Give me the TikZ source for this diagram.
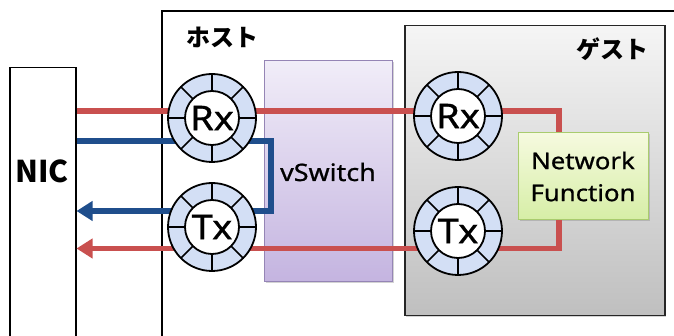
\documentclass[tikz,border=0pt]{standalone}
\usepackage{fontspec}
\setmainfont{Noto Sans CJK JP}
\newfontfamily\latinfont{Noto Sans}[FakeStretch=1.12,FakeBold=0.8]
\usetikzlibrary{arrows.meta,shadows,calc}
\definecolor{lred}{HTML}{C9504F}
\definecolor{lblue}{HTML}{1F4E8C}
\definecolor{ringfill}{HTML}{D3DFF5}
\definecolor{vtop}{HTML}{F1EDF8}
\definecolor{vbot}{HTML}{C4B4E0}
\definecolor{vborder}{HTML}{9585B5}
\definecolor{ntop}{HTML}{F6FADF}
\definecolor{nbot}{HTML}{D6EEA6}
\definecolor{nborder}{HTML}{A9CC6E}
\tikzset{
  redline/.style={draw=lred,line width=5.5pt},
  blueline/.style={draw=lblue,line width=5.5pt},
  tip/.style={-{Triangle[length=16pt,width=19pt]}},
  ringouter/.style={circle,draw=black,line width=1.8pt,fill=ringfill,minimum size=88pt,inner sep=0pt},
  ringinner/.style={circle,draw=black,line width=1.8pt,fill=white,minimum size=54pt,inner sep=0pt,font=\latinfont\fontsize{34}{34}\selectfont},
  spoke/.style={draw=black,line width=1.5pt},
  jlabel/.style={font=\fontsize{24}{24}\selectfont\bfseries},
  sbox/.style={drop shadow={shadow xshift=1.5pt,shadow yshift=-1.5pt,opacity=0.35}},
}
\newcommand{\myring}[4]{%
  \node[ringouter] (#1) at (#2,#3) {};
  \foreach \a in {0,45,...,315} \draw[spoke] ($(#1.center)+(\a:27)$) -- ($(#1.center)+(\a:44)$);
  \node[ringinner] (#1in) at (#2,#3) {#4};
}
\begin{document}
\begin{tikzpicture}[x=1pt,y=-1pt]
\useasboundingbox (0,0) rectangle (674,336);
\clip (0,0) rectangle (674,336);
% host box
\node[draw=black,line width=2pt,minimum width=560pt,minimum height=360pt,anchor=north west,inner sep=0pt] (host) at (161,10) {};
\node[jlabel] (hostlabel) at (222,37) {ホスト};
% NIC
\node[draw=black,line width=1.5pt,minimum width=66pt,minimum height=290pt,anchor=north west,inner sep=0pt] (nic) at (9,67) {};
\node[font=\fontsize{30}{30}\selectfont\bfseries] (nictext) at (42,171) {NIC};
% guest box
\node[sbox,draw=black!85,line width=1.5pt,top color=black!4,bottom color=black!25,minimum width=260pt,minimum height=290pt,anchor=north west,inner sep=0pt] (guest) at (404,25) {};
\node[jlabel] (guestlabel) at (612,49) {ゲスト};
% vSwitch
\node[sbox,draw=vborder,line width=1pt,top color=vtop,bottom color=vbot,minimum width=128pt,minimum height=221pt,anchor=north west,inner sep=0pt] (vsw) at (264,60) {};
\node[font=\latinfont\fontsize{24}{24}\selectfont] (vswtext) at (328,172) {vSwitch};
% coordinates
\coordinate (r1) at (0,111);
\coordinate (b1) at (0,141);
\coordinate (bx) at (271,211);
\coordinate (kx) at (559,0);
\coordinate (r2) at (0,248.5);
% Network Function
\node[sbox,draw=nborder,line width=1pt,top color=ntop,bottom color=nbot,minimum width=130pt,minimum height=87pt,align=center,inner sep=0pt,font=\latinfont\fontsize{23}{32}\selectfont] (nf) at (583,176.5) {Network\\Function};
% lines
\draw[redline] (nic.east |- r1) -| (nf.north -| kx);
\draw[redline,tip] (nf.south -| kx) |- (nic.east |- r2);
\draw[blueline,tip] (nic.east |- b1) -| (bx) -- (nic.east |- bx);
% rings
\myring{hrx}{212}{118}{Rx}
\myring{htx}{212}{227}{Tx}
\myring{grx}{458}{116}{Rx}
\myring{gtx}{458}{231}{Tx}
\end{tikzpicture}
\end{document}
